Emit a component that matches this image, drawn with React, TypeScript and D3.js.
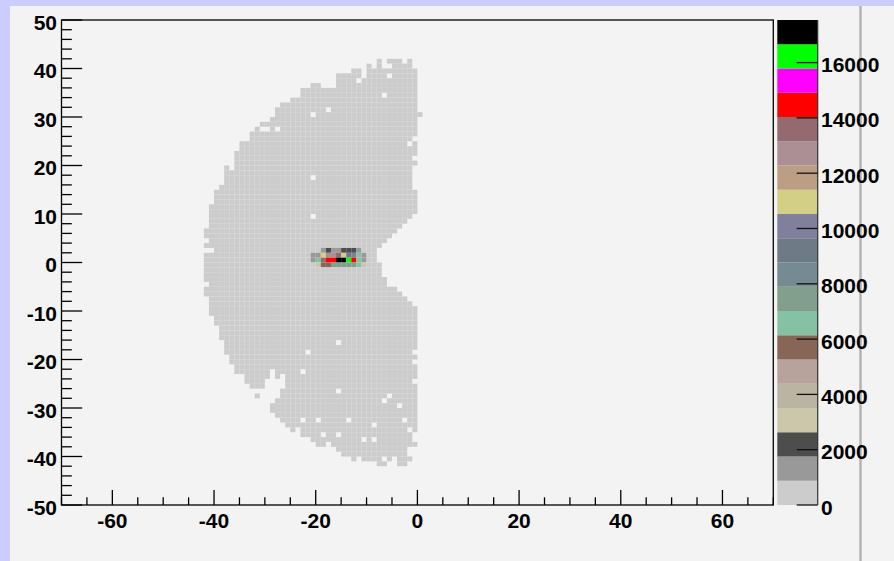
import React from "react";
import * as d3 from "d3";

// palette colours, lowest contour first
const paletteColors = [
  "#cccccc", "#999999", "#4d4d4d", "#ccc7ab", "#bab5a3",
  "#b8a39c", "#876657", "#85c2a3", "#829e8c", "#758a91",
  "#6e7a85", "#80809c", "#d4cf87", "#bb9e83", "#ab8f94",
  "#946970", "#ff0000", "#ff00ff", "#00ff00", "#000000",
];
const zMax = 17540;
const baseCount = 420; // ordinary filled bin, lowest contour

// filled x-bin ranges [from, to] for each y-bin (lower edge), top row first
const rowSpans: [number, [number, number][]][] = [
  [41, [[-8, -8], [-6, -4], [-2, -2]]],
  [40, [[-10, -10], [-8, -8], [-5, -2]]],
  [39, [[-13, -12], [-10, -1]]],
  [38, [[-16, -1]]],
  [37, [[-16, -1]]],
  [36, [[-21, -20], [-16, -1]]],
  [35, [[-23, -1]]],
  [34, [[-23, -1]]],
  [33, [[-25, -1]]],
  [32, [[-27, -1]]],
  [31, [[-28, -1]]],
  [30, [[-28, 0]]],
  [29, [[-29, -1]]],
  [28, [[-31, -1]]],
  [27, [[-32, -1]]],
  [26, [[-33, -1]]],
  [25, [[-33, -2]]],
  [24, [[-35, -1]]],
  [23, [[-35, -1]]],
  [22, [[-36, -1]]],
  [21, [[-36, -2]]],
  [20, [[-36, -1]]],
  [19, [[-38, -2]]],
  [18, [[-38, -2]]],
  [17, [[-38, -2]]],
  [16, [[-38, -2]]],
  [15, [[-39, -2]]],
  [14, [[-40, -1]]],
  [13, [[-40, -1]]],
  [12, [[-40, -1]]],
  [11, [[-41, -1]]],
  [10, [[-41, -1]]],
  [9, [[-41, -2]]],
  [8, [[-41, -3]]],
  [7, [[-41, -4]]],
  [6, [[-42, -5]]],
  [5, [[-42, -6]]],
  [4, [[-41, -7]]],
  [3, [[-42, -8]]],
  [2, [[-40, -9]]],
  [1, [[-42, -9]]],
  [0, [[-42, -9]]],
  [-1, [[-42, -8]]],
  [-2, [[-42, -8]]],
  [-3, [[-42, -8]]],
  [-4, [[-42, -7]]],
  [-5, [[-41, -7]]],
  [-6, [[-42, -5]]],
  [-7, [[-42, -4]]],
  [-8, [[-41, -3]]],
  [-9, [[-41, -2]]],
  [-10, [[-41, -1]]],
  [-11, [[-41, -1]]],
  [-12, [[-40, -1]]],
  [-13, [[-40, -1]]],
  [-14, [[-39, -1]]],
  [-15, [[-39, -1]]],
  [-16, [[-39, -1]]],
  [-17, [[-38, -1]]],
  [-18, [[-38, -1]]],
  [-19, [[-38, -2]]],
  [-20, [[-37, -1]]],
  [-21, [[-37, -2]]],
  [-22, [[-36, -1]]],
  [-23, [[-36, -1]]],
  [-24, [[-34, -1]]],
  [-25, [[-34, -31], [-26, -2]]],
  [-26, [[-33, -31], [-26, -1]]],
  [-27, [[-27, -1]]],
  [-28, [[-32, -32], [-27, -1]]],
  [-29, [[-28, -1]]],
  [-30, [[-29, -1]]],
  [-31, [[-29, -1]]],
  [-32, [[-28, -1]]],
  [-33, [[-27, -1]]],
  [-34, [[-26, -1]]],
  [-35, [[-25, -1]]],
  [-36, [[-23, -2]]],
  [-37, [[-21, -2]]],
  [-38, [[-20, -1]]],
  [-39, [[-16, -3]]],
  [-40, [[-15, -3]]],
  [-41, [[-13, -13], [-11, -8], [-6, -6], [-4, -2]]],
  [-42, [[-8, -7], [-4, -3]]],
];

// empty bins inside the filled area [x, y]
const emptyBins: [number, number][] = [
  [-11, 38], [-6, 38], [-12, 37], [-7, 34], [-18, 31], [-21, 30],
  [-31, 27], [-30, 27], [-28, 27], [-2, 24], [-37, 19], [-21, 17],
  [-21, 9], [-16, -17], [-22, -19], [-29, -23], [-23, -23], [-29, -24],
  [-27, -24], [-16, -27], [-6, -28], [-7, -29], [-4, -30], [-23, -33],
  [-20, -33], [-14, -33], [-3, -33], [-9, -34], [-24, -35], [-2, -35],
  [-19, -36], [-16, -36], [-11, -37], [-9, -37], [-18, -38],
];

// the hot spot near (-15, 0)
const hotX = [
  -19, -18, -17, -16, -15, -14, -13, -12,
  -21, -20, -19, -18, -17, -16, -15, -14, -13, -12, -11,
  -21, -20, -19, -18, -17, -16, -15, -14, -13, -12, -11,
  -20, -19, -18, -17, -16, -15, -14, -13, -12, -11,
];
const hotY = [
  2, 2, 2, 2, 2, 2, 2, 2,
  1, 1, 1, 1, 1, 1, 1, 1, 1, 1, 1,
  0, 0, 0, 0, 0, 0, 0, 0, 0, 0, 0,
  -1, -1, -1, -1, -1, -1, -1, -1, -1, -1,
];
const hotCounts = [
  1300, 2200, 1300, 1300, 2200, 2200, 2200, 1300,
  1300, 1300, 11000, 12700, 12700, 13600, 11000, 9200, 10100, 6600, 1300,
  1300, 6600, 13600, 14500, 14500, 17540, 17100, 16200, 14500, 6600, 1300,
  3000, 5700, 5700, 7400, 7400, 7400, 7400, 7400, 6600, 3000,
];

const font = "'Liberation Sans', Arial, Helvetica, sans-serif";

export default function App() {
  const x = d3.scaleLinear().domain([-70, 70]).range([61.5, 773.3]);
  const y = d3.scaleLinear().domain([-50, 50]).range([505, 20]);
  const z = d3.scaleLinear().domain([0, zMax]).range([505, 20]);
  const color = d3.scaleQuantize<string>().domain([0, zMax]).range(paletteColors);

  const holes = new Set(emptyBins.map(d => d[0] + "," + d[1]));
  const hot = new Map<string, number>();
  hotX.forEach((hx, i) => hot.set(hx + "," + hotY[i], hotCounts[i]));

  const cells: { bx: number; by: number; n: number }[] = [];
  rowSpans.forEach(([by, spans]) => {
    spans.forEach(([a, b]) => {
      for (let bx = a; bx <= b; bx++) {
        const key = bx + "," + by;
        if (holes.has(key)) continue;
        cells.push({ bx, by, n: hot.has(key) ? hot.get(key)! : baseCount });
      }
    });
  });

  const xMajor = x.ticks(7);
  const xMinor = x.ticks(28).filter(d => !xMajor.includes(d));
  const yMajor = y.ticks(10);
  const yMinor = y.ticks(50).filter(d => !yMajor.includes(d));
  const zTicks = z.ticks(9);
  const bandW = zMax / paletteColors.length;

  const palX0 = 777.3, palX1 = 817.7;

  return (
    <svg width={894} height={561} style={{ position: "absolute", left: 0, top: 0 }}>
      <rect x={0} y={0} width={894} height={561} fill="#ccccff" />
      <rect x={10} y={6} width={884} height={555} fill="#f3f3f3" />
      <line x1={860.5} x2={860.5} y1={6} y2={561} stroke="#b3b3b3" strokeWidth={2.5} />

      <g>
        {cells.map(c => (
          <rect key={c.bx + "_" + c.by}
            x={x(c.bx)} y={y(c.by + 1)}
            width={x(c.bx + 1) - x(c.bx)} height={y(c.by) - y(c.by + 1)}
            fill={color(c.n)} />
        ))}
      </g>

      <rect x={x(-70)} y={y(50)} width={x(70) - x(-70)} height={y(-50) - y(50)}
        fill="none" stroke="#000" strokeWidth={1.3} />

      <g stroke="#000" strokeWidth={1.3}>
        {xMajor.map(d => <line key={"xM" + d} x1={x(d)} x2={x(d)} y1={505} y2={490} />)}
        {xMinor.map(d => <line key={"xm" + d} x1={x(d)} x2={x(d)} y1={505} y2={497.3} />)}
        {yMajor.map(d => <line key={"yM" + d} x1={61.5} x2={82.2} y1={y(d)} y2={y(d)} />)}
        {yMinor.map(d => <line key={"ym" + d} x1={61.5} x2={71.8} y1={y(d)} y2={y(d)} />)}
      </g>

      <g fontFamily={font} fontWeight="bold" fontSize={21} fill="#000">
        {xMajor.map(d => (
          <text key={"xl" + d} x={x(d)} y={527.5} textAnchor="middle">{d}</text>
        ))}
        {yMajor.map(d => (
          <text key={"yl" + d} x={57} y={y(d) + 9.5} textAnchor="end">{d}</text>
        ))}
      </g>

      <g>
        {paletteColors.map((c, i) => (
          <rect key={"p" + i} x={palX0} y={z((i + 1) * bandW)}
            width={palX1 - palX0} height={z(i * bandW) - z((i + 1) * bandW)} fill={c} />
        ))}
      </g>
      <line x1={palX1} x2={palX1} y1={20} y2={505} stroke="#333" strokeWidth={1.2} />
      <g stroke="#111" strokeWidth={1.3}>
        {zTicks.map(d => <line key={"zt" + d} x1={palX1} x2={796.7} y1={z(d)} y2={z(d)} />)}
      </g>
      <g fontFamily={font} fontWeight="bold" fontSize={21} fill="#000">
        {zTicks.map(d => (
          <text key={"zl" + d} x={821} y={z(d) + 9.5}>{d}</text>
        ))}
      </g>
    </svg>
  );
}
